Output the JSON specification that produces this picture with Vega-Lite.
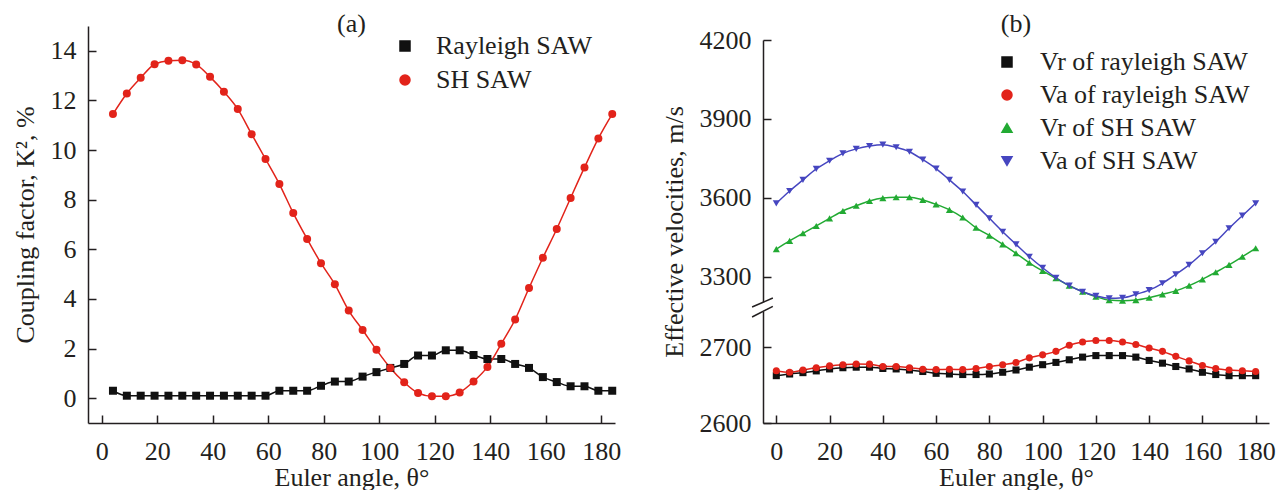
{
  "$schema": "https://vega.github.io/schema/vega-lite/v6.json",
  "padding": {"left": 12, "top": 11, "right": 0, "bottom": 0},
  "bounds": "flush",
  "spacing": 148,
  "resolve": {"scale": {"color": "independent", "shape": "independent", "x": "independent", "y": "independent"}, "legend": {"color": "independent", "shape": "independent"}},
  "config": {
    "font": "Liberation Serif",
    "view": {"stroke": null},
    "axis": {
      "labelFont": "Liberation Serif", "labelFontSize": 26, "labelColor": "#231f20",
      "titleFont": "Liberation Serif", "titleFontSize": 26, "titleFontWeight": "normal", "titleColor": "#231f20",
      "domainColor": "#231f20", "domainWidth": 1.5, "tickColor": "#231f20", "tickWidth": 1.5,
      "tickSize": -8, "labelPadding": 20, "grid": false,
      "labelFlush": false, "labelOverlap": false
    },
    "axisY": {"titlePadding": 12},
    "axisX": {"titlePadding": 0, "labelPadding": 23},
    "legend": {
      "labelFont": "Liberation Serif", "labelFontSize": 26, "labelColor": "#231f20",
      "symbolStrokeWidth": 1.5, "padding": 0, "labelLimit": 400
    },
    "title": {"font": "Liberation Serif", "fontSize": 26, "fontWeight": "normal", "color": "#231f20", "offset": -11, "anchor": "middle"}
  },
  "datasets": {
    "k2": [
      {"theta": 4, "Rayleigh SAW": 0.3, "SH SAW": 11.45},
      {"theta": 9, "Rayleigh SAW": 0.1, "SH SAW": 12.28},
      {"theta": 14, "Rayleigh SAW": 0.1, "SH SAW": 12.91},
      {"theta": 19, "Rayleigh SAW": 0.1, "SH SAW": 13.46},
      {"theta": 24, "Rayleigh SAW": 0.1, "SH SAW": 13.6},
      {"theta": 29, "Rayleigh SAW": 0.1, "SH SAW": 13.62},
      {"theta": 34, "Rayleigh SAW": 0.1, "SH SAW": 13.45},
      {"theta": 39, "Rayleigh SAW": 0.1, "SH SAW": 12.95},
      {"theta": 44, "Rayleigh SAW": 0.1, "SH SAW": 12.35},
      {"theta": 49, "Rayleigh SAW": 0.1, "SH SAW": 11.65},
      {"theta": 54, "Rayleigh SAW": 0.1, "SH SAW": 10.64},
      {"theta": 59, "Rayleigh SAW": 0.1, "SH SAW": 9.64},
      {"theta": 64, "Rayleigh SAW": 0.3, "SH SAW": 8.63},
      {"theta": 69, "Rayleigh SAW": 0.3, "SH SAW": 7.46},
      {"theta": 74, "Rayleigh SAW": 0.3, "SH SAW": 6.42},
      {"theta": 79, "Rayleigh SAW": 0.5, "SH SAW": 5.44},
      {"theta": 84, "Rayleigh SAW": 0.67, "SH SAW": 4.59},
      {"theta": 89, "Rayleigh SAW": 0.67, "SH SAW": 3.53},
      {"theta": 94, "Rayleigh SAW": 0.87, "SH SAW": 2.75},
      {"theta": 99, "Rayleigh SAW": 1.05, "SH SAW": 1.95},
      {"theta": 104, "Rayleigh SAW": 1.22, "SH SAW": 1.22},
      {"theta": 109, "Rayleigh SAW": 1.38, "SH SAW": 0.64},
      {"theta": 114, "Rayleigh SAW": 1.72, "SH SAW": 0.21},
      {"theta": 119, "Rayleigh SAW": 1.72, "SH SAW": 0.08},
      {"theta": 124, "Rayleigh SAW": 1.93, "SH SAW": 0.08},
      {"theta": 129, "Rayleigh SAW": 1.93, "SH SAW": 0.23},
      {"theta": 134, "Rayleigh SAW": 1.74, "SH SAW": 0.67},
      {"theta": 139, "Rayleigh SAW": 1.58, "SH SAW": 1.26},
      {"theta": 144, "Rayleigh SAW": 1.58, "SH SAW": 2.19},
      {"theta": 149, "Rayleigh SAW": 1.38, "SH SAW": 3.17},
      {"theta": 154, "Rayleigh SAW": 1.22, "SH SAW": 4.44},
      {"theta": 159, "Rayleigh SAW": 0.85, "SH SAW": 5.66},
      {"theta": 164, "Rayleigh SAW": 0.65, "SH SAW": 6.82},
      {"theta": 169, "Rayleigh SAW": 0.48, "SH SAW": 8.07},
      {"theta": 174, "Rayleigh SAW": 0.48, "SH SAW": 9.3},
      {"theta": 179, "Rayleigh SAW": 0.3, "SH SAW": 10.47},
      {"theta": 184, "Rayleigh SAW": 0.3, "SH SAW": 11.45}
    ],
    "vel": [
      {"theta": 0, "Vr of rayleigh SAW": 2662.5, "Va of rayleigh SAW": 2669, "Vr of SH SAW": 3405, "Va of SH SAW": 3579},
      {"theta": 5, "Vr of rayleigh SAW": 2664.7, "Va of rayleigh SAW": 2667, "Vr of SH SAW": 3436, "Va of SH SAW": 3626},
      {"theta": 10, "Vr of rayleigh SAW": 2666.5, "Va of rayleigh SAW": 2670, "Vr of SH SAW": 3465, "Va of SH SAW": 3668},
      {"theta": 15, "Vr of rayleigh SAW": 2668.8, "Va of rayleigh SAW": 2673, "Vr of SH SAW": 3493, "Va of SH SAW": 3710},
      {"theta": 20, "Vr of rayleigh SAW": 2671.4, "Va of rayleigh SAW": 2675.4, "Vr of SH SAW": 3522, "Va of SH SAW": 3741},
      {"theta": 25, "Vr of rayleigh SAW": 2673, "Va of rayleigh SAW": 2677, "Vr of SH SAW": 3550, "Va of SH SAW": 3769},
      {"theta": 30, "Vr of rayleigh SAW": 2673.7, "Va of rayleigh SAW": 2678, "Vr of SH SAW": 3570, "Va of SH SAW": 3786},
      {"theta": 35, "Vr of rayleigh SAW": 2673.7, "Va of rayleigh SAW": 2677.7, "Vr of SH SAW": 3588, "Va of SH SAW": 3797},
      {"theta": 40, "Vr of rayleigh SAW": 2672, "Va of rayleigh SAW": 2674.6, "Vr of SH SAW": 3599, "Va of SH SAW": 3802},
      {"theta": 45, "Vr of rayleigh SAW": 2671.4, "Va of rayleigh SAW": 2674.6, "Vr of SH SAW": 3602, "Va of SH SAW": 3792},
      {"theta": 50, "Vr of rayleigh SAW": 2670, "Va of rayleigh SAW": 2673, "Vr of SH SAW": 3602, "Va of SH SAW": 3775},
      {"theta": 55, "Vr of rayleigh SAW": 2668, "Va of rayleigh SAW": 2671, "Vr of SH SAW": 3592, "Va of SH SAW": 3745},
      {"theta": 60, "Vr of rayleigh SAW": 2665.6, "Va of rayleigh SAW": 2670.5, "Vr of SH SAW": 3575, "Va of SH SAW": 3711},
      {"theta": 65, "Vr of rayleigh SAW": 2664.7, "Va of rayleigh SAW": 2671, "Vr of SH SAW": 3554, "Va of SH SAW": 3668},
      {"theta": 70, "Vr of rayleigh SAW": 2664, "Va of rayleigh SAW": 2670.5, "Vr of SH SAW": 3525, "Va of SH SAW": 3624},
      {"theta": 75, "Vr of rayleigh SAW": 2664, "Va of rayleigh SAW": 2672, "Vr of SH SAW": 3486, "Va of SH SAW": 3573},
      {"theta": 80, "Vr of rayleigh SAW": 2664.7, "Va of rayleigh SAW": 2674.6, "Vr of SH SAW": 3456, "Va of SH SAW": 3522},
      {"theta": 85, "Vr of rayleigh SAW": 2667, "Va of rayleigh SAW": 2677, "Vr of SH SAW": 3423, "Va of SH SAW": 3471},
      {"theta": 90, "Vr of rayleigh SAW": 2670, "Va of rayleigh SAW": 2680, "Vr of SH SAW": 3389, "Va of SH SAW": 3423},
      {"theta": 95, "Vr of rayleigh SAW": 2673.7, "Va of rayleigh SAW": 2686, "Vr of SH SAW": 3353, "Va of SH SAW": 3376},
      {"theta": 100, "Vr of rayleigh SAW": 2677, "Va of rayleigh SAW": 2690, "Vr of SH SAW": 3322, "Va of SH SAW": 3334},
      {"theta": 105, "Vr of rayleigh SAW": 2680, "Va of rayleigh SAW": 2694.6, "Vr of SH SAW": 3294, "Va of SH SAW": 3296},
      {"theta": 110, "Vr of rayleigh SAW": 2683.5, "Va of rayleigh SAW": 2702.7, "Vr of SH SAW": 3266, "Va of SH SAW": 3266},
      {"theta": 115, "Vr of rayleigh SAW": 2687, "Va of rayleigh SAW": 2707, "Vr of SH SAW": 3243, "Va of SH SAW": 3243},
      {"theta": 120, "Vr of rayleigh SAW": 2689, "Va of rayleigh SAW": 2709, "Vr of SH SAW": 3224, "Va of SH SAW": 3227},
      {"theta": 125, "Vr of rayleigh SAW": 2689, "Va of rayleigh SAW": 2709, "Vr of SH SAW": 3211, "Va of SH SAW": 3218},
      {"theta": 130, "Vr of rayleigh SAW": 2689, "Va of rayleigh SAW": 2707, "Vr of SH SAW": 3209, "Va of SH SAW": 3220},
      {"theta": 135, "Vr of rayleigh SAW": 2687, "Va of rayleigh SAW": 2703.6, "Vr of SH SAW": 3211, "Va of SH SAW": 3233},
      {"theta": 140, "Vr of rayleigh SAW": 2682.6, "Va of rayleigh SAW": 2699, "Vr of SH SAW": 3220, "Va of SH SAW": 3249},
      {"theta": 145, "Vr of rayleigh SAW": 2679, "Va of rayleigh SAW": 2694.6, "Vr of SH SAW": 3233, "Va of SH SAW": 3275},
      {"theta": 150, "Vr of rayleigh SAW": 2674.6, "Va of rayleigh SAW": 2688, "Vr of SH SAW": 3246, "Va of SH SAW": 3309},
      {"theta": 155, "Vr of rayleigh SAW": 2671.4, "Va of rayleigh SAW": 2682, "Vr of SH SAW": 3266, "Va of SH SAW": 3345},
      {"theta": 160, "Vr of rayleigh SAW": 2667, "Va of rayleigh SAW": 2676, "Vr of SH SAW": 3290, "Va of SH SAW": 3389},
      {"theta": 165, "Vr of rayleigh SAW": 2664, "Va of rayleigh SAW": 2672, "Vr of SH SAW": 3317, "Va of SH SAW": 3433},
      {"theta": 170, "Vr of rayleigh SAW": 2662.5, "Va of rayleigh SAW": 2670, "Vr of SH SAW": 3345, "Va of SH SAW": 3484},
      {"theta": 175, "Vr of rayleigh SAW": 2662.5, "Va of rayleigh SAW": 2669, "Vr of SH SAW": 3376, "Va of SH SAW": 3532},
      {"theta": 180, "Vr of rayleigh SAW": 2662.5, "Va of rayleigh SAW": 2668, "Vr of SH SAW": 3408, "Va of SH SAW": 3579}
    ],
    "axisBreak": [
      {"x": -9.1, "x2": -1.3, "y": 2919, "y2": 3219},
      {"x": -9.1, "x2": -1.3, "y": 2740, "y2": 2968}
    ],
    "axisGap": [
      {"x": -5, "y": 2747, "y2": 3202}
    ]
  },
  "hconcat": [
    {
      "width": 527,
      "height": 397,
      "title": "(a)",
      "data": {"name": "k2"},
      "transform": [{"fold": ["Rayleigh SAW", "SH SAW"], "as": ["series", "k2"]}],
      "encoding": {
        "x": {"field": "theta", "type": "quantitative",
              "scale": {"domain": [-5, 185], "nice": false, "zero": false},
              "axis": {"values": [0, 20, 40, 60, 80, 100, 120, 140, 160, 180], "title": "Euler angle, θ°"}},
        "y": {"field": "k2", "type": "quantitative",
              "scale": {"domain": [-1, 15], "nice": false, "zero": false},
              "axis": {"values": [0, 2, 4, 6, 8, 10, 12, 14], "title": "Coupling factor, K², %"}},
        "color": {"field": "series", "type": "nominal",
                  "scale": {"domain": ["Rayleigh SAW", "SH SAW"], "range": ["#111111", "#e2231a"]},
                  "legend": {"title": null, "orient": "none", "legendX": 304, "legendY": 7,
                             "rowPadding": 8, "labelOffset": 18}}
      },
      "layer": [
        {"mark": {"type": "line", "interpolate": "monotone", "strokeWidth": 1.5}},
        {"mark": {"type": "point", "filled": true, "opacity": 1, "size": 64},
         "encoding": {"shape": {"field": "series", "type": "nominal",
                                "scale": {"domain": ["Rayleigh SAW", "SH SAW"], "range": ["square", "circle"]}}}}
      ]
    },
    {
      "width": 506,
      "height": 397,
      "title": "(b)",
      "layer": [
        {
          "data": {"name": "vel"},
          "transform": [{"fold": ["Vr of rayleigh SAW", "Va of rayleigh SAW", "Vr of SH SAW", "Va of SH SAW"], "as": ["series", "v"]}],
          "encoding": {
            "x": {"field": "theta", "type": "quantitative",
                  "scale": {"domain": [-5, 185], "nice": false, "zero": false},
                  "axis": {"values": [0, 20, 40, 60, 80, 100, 120, 140, 160, 180], "title": "Euler angle, θ°"}},
            "y": {"field": "v", "type": "quantitative",
                  "scale": {"domain": [2600, 2750, 3200, 4200], "range": [397, 283.4, 277, 14], "nice": false, "zero": false},
                  "axis": {"values": [2600, 2700, 3300, 3600, 3900, 4200], "format": "d", "title": "Effective velocities, m/s"}},
            "color": {"field": "series", "type": "nominal",
                      "scale": {"domain": ["Vr of rayleigh SAW", "Va of rayleigh SAW", "Vr of SH SAW", "Va of SH SAW"],
                                "range": ["#111111", "#e2231a", "#22aa33", "#4646c0"]},
                      "legend": {"title": null, "orient": "none", "legendX": 231, "legendY": 23,
                                 "rowPadding": 7, "labelOffset": 20}}
          },
          "layer": [
            {"mark": {"type": "line", "interpolate": "monotone", "strokeWidth": 1.5}},
            {"mark": {"type": "point", "filled": true, "opacity": 1, "size": 50},
             "encoding": {"shape": {"field": "series", "type": "nominal",
                                    "scale": {"domain": ["Vr of rayleigh SAW", "Va of rayleigh SAW", "Vr of SH SAW", "Va of SH SAW"],
                                              "range": ["square", "circle", "triangle-up", "triangle-down"]}}}}
          ]
        },
        {
          "data": {"name": "axisGap"},
          "mark": {"type": "rule", "color": "white", "strokeWidth": 5},
          "encoding": {"x": {"field": "x", "type": "quantitative"}, "y": {"field": "y", "type": "quantitative"}, "y2": {"field": "y2"}}
        },
        {
          "data": {"name": "axisBreak"},
          "mark": {"type": "rule", "color": "#231f20", "strokeWidth": 1.5},
          "encoding": {"x": {"field": "x", "type": "quantitative"}, "x2": {"field": "x2"}, "y": {"field": "y", "type": "quantitative"}, "y2": {"field": "y2"}}
        }
      ]
    }
  ]
}
